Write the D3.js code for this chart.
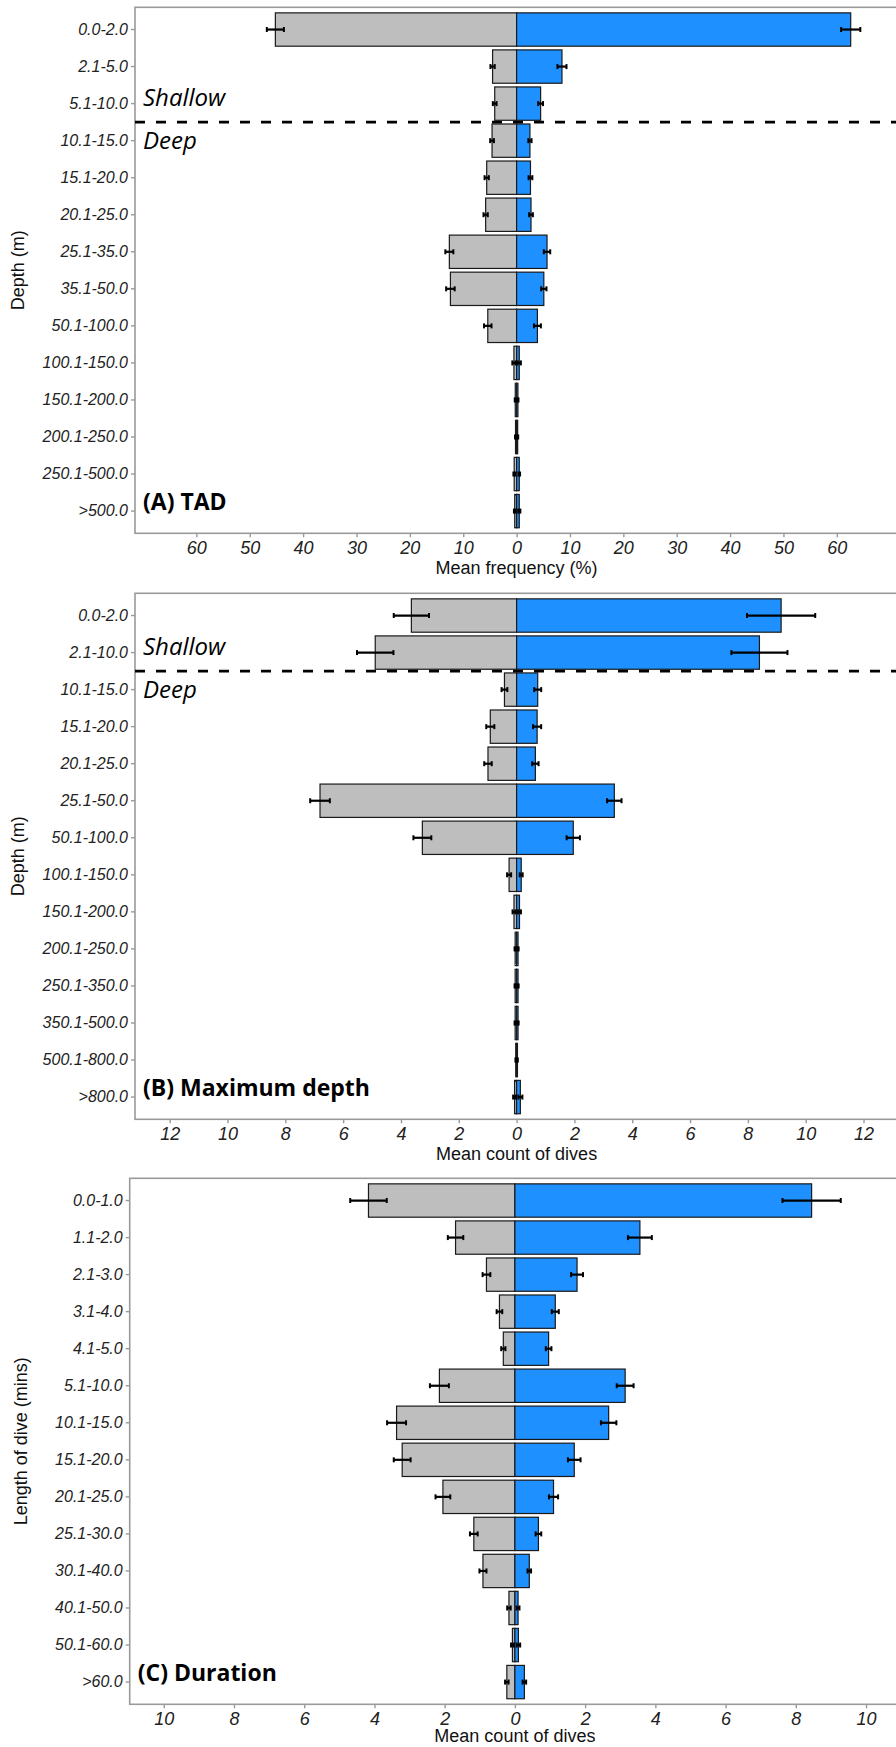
<!DOCTYPE html>
<html>
<head>
<meta charset="utf-8">
<script src="https://cdn.jsdelivr.net/npm/d3@7"></script>
<style>
body { margin: 0; background: #fff; }
svg { display: block; }
</style>
</head>
<body>
<div id="chart"></div>
<script>
// (A) TAD - mean frequency (%)
const tadBins = ["0.0-2.0", "2.1-5.0", "5.1-10.0", "10.1-15.0", "15.1-20.0", "20.1-25.0", "25.1-35.0",
	"35.1-50.0", "50.1-100.0", "100.1-150.0", "150.1-200.0", "200.1-250.0", "250.1-500.0", ">500.0"];
const tadGrey = [45.2, 4.5, 4.1, 4.6, 5.6, 5.8, 12.6, 12.4, 5.4, 0.5, 0.25, 0.2, 0.45, 0.35];
const tadBlue = [62.6, 8.5, 4.5, 2.5, 2.6, 2.7, 5.7, 5.1, 3.9, 0.5, 0.25, 0.2, 0.5, 0.5];
const tadGreyErr = [1.6, 0.4, 0.35, 0.35, 0.4, 0.4, 0.75, 0.8, 0.7, 0.3, 0.1, 0.1, 0.15, 0.15];
const tadBlueErr = [1.8, 0.85, 0.45, 0.3, 0.35, 0.35, 0.6, 0.5, 0.65, 0.3, 0.1, 0.1, 0.15, 0.2];
const tadTicks = [-60, -50, -40, -30, -20, -10, 0, 10, 20, 30, 40, 50, 60];

// (B) Maximum depth - mean count of dives
const maxBins = ["0.0-2.0", "2.1-10.0", "10.1-15.0", "15.1-20.0", "20.1-25.0", "25.1-50.0", "50.1-100.0",
	"100.1-150.0", "150.1-200.0", "200.1-250.0", "250.1-350.0", "350.1-500.0", "500.1-800.0", ">800.0"];
const maxGrey = [3.64, 4.89, 0.42, 0.91, 0.99, 6.8, 3.26, 0.26, 0.09, 0.05, 0.05, 0.05, 0.03, 0.07];
const maxBlue = [9.15, 8.4, 0.73, 0.71, 0.65, 3.38, 1.96, 0.16, 0.1, 0.05, 0.05, 0.05, 0.03, 0.13];
const maxGreyErr = [0.61, 0.63, 0.1, 0.14, 0.13, 0.34, 0.31, 0.07, 0.05, 0.02, 0.02, 0.02, 0.01, 0.05];
const maxBlueErr = [1.18, 0.97, 0.12, 0.14, 0.11, 0.25, 0.23, 0.05, 0.05, 0.02, 0.02, 0.02, 0.01, 0.07];
const maxTicks = [-12, -10, -8, -6, -4, -2, 0, 2, 4, 6, 8, 10, 12];

// (C) Duration - mean count of dives
const durBins = ["0.0-1.0", "1.1-2.0", "2.1-3.0", "3.1-4.0", "4.1-5.0", "5.1-10.0", "10.1-15.0",
	"15.1-20.0", "20.1-25.0", "25.1-30.0", "30.1-40.0", "40.1-50.0", "50.1-60.0", ">60.0"];
const durGrey = [4.17, 1.69, 0.81, 0.44, 0.33, 2.15, 3.37, 3.21, 2.05, 1.17, 0.91, 0.17, 0.07, 0.23];
const durBlue = [8.45, 3.56, 1.77, 1.15, 0.96, 3.14, 2.67, 1.69, 1.1, 0.67, 0.41, 0.09, 0.1, 0.27];
const durGreyErr = [0.52, 0.22, 0.11, 0.08, 0.06, 0.27, 0.27, 0.24, 0.21, 0.11, 0.1, 0.05, 0.04, 0.05];
const durBlueErr = [0.83, 0.34, 0.17, 0.1, 0.08, 0.24, 0.22, 0.18, 0.13, 0.08, 0.05, 0.04, 0.05, 0.05];
const durTicks = [-10, -8, -6, -4, -2, 0, 2, 4, 6, 8, 10];

const W = 896, H = 1747;
const GREY = "#bebebe", BLUE = "#1e90ff", FRAME = "#9a9a9a";
const tickFont = "'Liberation Sans', Arial, sans-serif";
const noteFont = "'Open Sans', 'Noto Sans', sans-serif";

const svg = d3.select("#chart").append("svg")
	.attr("width", W)
	.attr("height", H);

function drawPanel(p) {
	const g = svg.append("g");
	const bottom = p.top + 526;
	const halfW = p.zero - p.left;

	const x = d3.scaleLinear()
		.domain([-p.max, p.max])
		.range([p.left, p.left + 2 * halfW]);
	const y = d3.scaleBand()
		.domain(p.bins)
		.range([p.top, bottom])
		.paddingInner(0.1)
		.paddingOuter(0.15);

	const rows = p.bins.map((b, i) => ({
		bin: b, grey: p.grey[i], blue: p.blue[i], greyErr: p.greyErr[i], blueErr: p.blueErr[i]
	}));

	// frame
	g.append("rect")
		.attr("x", p.left).attr("y", p.top)
		.attr("width", 2 * halfW).attr("height", bottom - p.top)
		.attr("fill", "none")
		.attr("stroke", FRAME)
		.attr("stroke-width", 1.6);

	// bars
	g.selectAll(".grey").data(rows).enter().append("rect")
		.attr("x", d => x(-d.grey))
		.attr("y", d => y(d.bin))
		.attr("width", d => x(0) - x(-d.grey))
		.attr("height", y.bandwidth())
		.attr("fill", GREY)
		.attr("stroke", "#1a1a1a")
		.attr("stroke-width", 1.2);
	g.selectAll(".blue").data(rows).enter().append("rect")
		.attr("x", x(0))
		.attr("y", d => y(d.bin))
		.attr("width", d => x(d.blue) - x(0))
		.attr("height", y.bandwidth())
		.attr("fill", BLUE)
		.attr("stroke", "#1a1a1a")
		.attr("stroke-width", 1.2);

	// error bars
	const errs = [];
	rows.forEach(d => {
		errs.push({ bin: d.bin, lo: -d.grey - d.greyErr, hi: -d.grey + d.greyErr });
		errs.push({ bin: d.bin, lo: d.blue - d.blueErr, hi: d.blue + d.blueErr });
	});
	const cy = d => y(d.bin) + y.bandwidth() / 2;
	g.selectAll(".err").data(errs).enter().append("line")
		.attr("x1", d => x(d.lo)).attr("x2", d => x(d.hi))
		.attr("y1", cy).attr("y2", cy)
		.attr("stroke", "#000").attr("stroke-width", 2.2);
	errs.forEach(d => {
		[d.lo, d.hi].forEach(v => {
			g.append("line")
				.attr("x1", x(v)).attr("x2", x(v))
				.attr("y1", cy(d) - 2.5).attr("y2", cy(d) + 2.5)
				.attr("stroke", "#000").attr("stroke-width", 2);
		});
	});

	// y axis
	const yAxis = g.append("g")
		.attr("transform", `translate(${p.left},0)`)
		.call(d3.axisLeft(y).tickSize(4).tickSizeOuter(0));
	yAxis.select(".domain").remove();
	yAxis.selectAll(".tick line").attr("stroke", FRAME).attr("stroke-width", 1.4);
	yAxis.selectAll(".tick text")
		.attr("x", -7)
		.attr("fill", "#222")
		.style("font-family", tickFont)
		.style("font-style", "italic")
		.style("font-size", "16px");

	// x axis
	const xAxis = g.append("g")
		.attr("transform", `translate(0,${bottom})`)
		.call(d3.axisBottom(x).tickValues(p.ticks).tickFormat(d => Math.abs(d)).tickSize(4).tickSizeOuter(0));
	xAxis.select(".domain").remove();
	xAxis.selectAll(".tick line").attr("stroke", FRAME).attr("stroke-width", 1.4);
	xAxis.selectAll(".tick text")
		.attr("y", 8)
		.attr("fill", "#222")
		.style("font-family", tickFont)
		.style("font-style", "italic")
		.style("font-size", "18px");

	g.append("text")
		.attr("x", x(0)).attr("y", bottom + p.xTitleDy)
		.attr("text-anchor", "middle")
		.style("font-family", tickFont)
		.style("font-size", "18px")
		.attr("fill", "#111")
		.text(p.xTitle);

	g.append("text")
		.attr("transform", `translate(${p.yTitleX},${(p.top + bottom) / 2}) rotate(-90)`)
		.attr("text-anchor", "middle")
		.style("font-family", tickFont)
		.style("font-size", "18px")
		.attr("fill", "#111")
		.text(p.yTitle);

	// shallow / deep divider
	if (p.split != null) {
		const yc = i => y(p.bins[i]) + y.bandwidth() / 2;
		const dy = (yc(p.split) + yc(p.split + 1)) / 2;
		g.append("line")
			.attr("x1", p.left).attr("x2", W + 5)
			.attr("y1", dy).attr("y2", dy)
			.attr("stroke", "#000")
			.attr("stroke-width", 2.6)
			.attr("stroke-dasharray", "10,11");
		g.append("text")
			.attr("x", p.left + 8).attr("y", dy - 16)
			.style("font-family", noteFont).style("font-style", "italic").style("font-size", "24px")
			.text("Shallow");
		g.append("text")
			.attr("x", p.left + 8).attr("y", dy + 27)
			.style("font-family", noteFont).style("font-style", "italic").style("font-size", "24px")
			.text("Deep");
	}

	g.append("text")
		.attr("x", p.left + 8).attr("y", bottom - 23)
		.style("font-family", noteFont).style("font-weight", "bold").style("font-size", "23px")
		.text(p.label);
}

drawPanel({
	top: 7.3, left: 135, zero: 516.6, max: 71.5, xTitleDy: 41,
	bins: tadBins, grey: tadGrey, blue: tadBlue, greyErr: tadGreyErr, blueErr: tadBlueErr, ticks: tadTicks,
	xTitle: "Mean frequency (%)", yTitle: "Depth (m)", yTitleX: 24, split: 2, label: "(A) TAD"
});
drawPanel({
	top: 593.3, left: 135, zero: 516.6, max: 13.2, xTitleDy: 41,
	bins: maxBins, grey: maxGrey, blue: maxBlue, greyErr: maxGreyErr, blueErr: maxBlueErr, ticks: maxTicks,
	xTitle: "Mean count of dives", yTitle: "Depth (m)", yTitleX: 24, split: 1, label: "(B) Maximum depth"
});
drawPanel({
	top: 1178.3, left: 129.7, zero: 514.9, max: 10.97, xTitleDy: 38,
	bins: durBins, grey: durGrey, blue: durBlue, greyErr: durGreyErr, blueErr: durBlueErr, ticks: durTicks,
	xTitle: "Mean count of dives", yTitle: "Length of dive (mins)", yTitleX: 27, split: null, label: "(C) Duration"
});
</script>
</body>
</html>
